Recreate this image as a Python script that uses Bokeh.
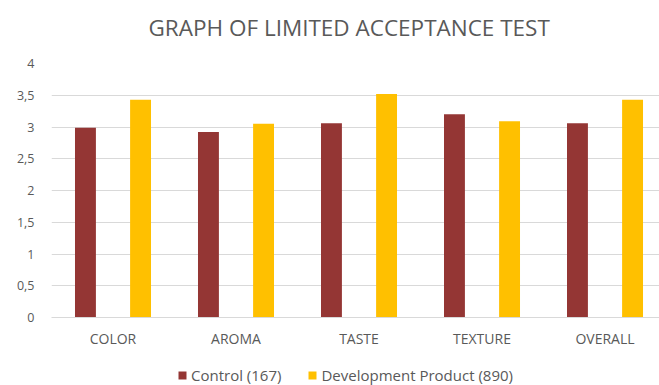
from bokeh.plotting import figure
from bokeh.layouts import column
from bokeh.models import (Range1d, FixedTicker, CustomJSTickFormatter, Legend, LegendItem,
                          ColumnDataSource, Label)
from bokeh.embed import file_html
from bokeh.resources import INLINE
from bokeh.transform import dodge

categories = ["COLOR", "AROMA", "TASTE", "TEXTURE", "OVERALL"]
control = [2.99, 2.92, 3.06, 3.20, 3.06]
development = [3.43, 3.05, 3.52, 3.09, 3.43]
series_names = ["Control (167)", "Development Product (890)"]
y_ticks = [0, 0.5, 1, 1.5, 2, 2.5, 3, 3.5, 4]
title_text = "GRAPH OF LIMITED ACCEPTANCE TEST"

FONT = "Open Sans"
GRAY = "#595959"
C_CTRL = "#943634"
C_DEV = "#FFC000"


def strip(height):
    f = figure(width=659, height=height, output_backend="svg", toolbar_location=None,
               x_axis_location=None, y_axis_location=None,
               min_border_left=0, min_border_right=0, min_border_top=0, min_border_bottom=0)
    f.outline_line_color = None
    f.xgrid.grid_line_color = None
    f.ygrid.grid_line_color = None
    return f


# title strip (its frame is aligned with the chart frame by the column layout)
tf = strip(55)
tf.add_layout(Label(x=97, y=28, x_units="screen", y_units="screen", text=title_text,
                    text_font=FONT, text_font_size="22.5px", text_color=GRAY,
                    text_baseline="middle", text_align="left"))

xpos = [i + 0.5 for i in range(len(categories))]
src = ColumnDataSource(dict(x=xpos, control=control, development=development))

p = figure(width=659, height=300, output_backend="svg", toolbar_location=None,
           x_range=Range1d(0, 4.943), y_range=Range1d(0, 4),
           min_border_left=51, min_border_right=0, min_border_top=8, min_border_bottom=38)
p.outline_line_color = None
p.background_fill_color = "white"
p.border_fill_color = "white"

p.vbar(x=dodge("x", -0.224), top="control", width=0.17, source=src, fill_color=C_CTRL, line_color=None)
p.vbar(x=dodge("x", 0.224), top="development", width=0.17, source=src, fill_color=C_DEV, line_color=None)

# y axis
yax = p.yaxis[0]
yax.ticker = FixedTicker(ticks=y_ticks)
yax.formatter = CustomJSTickFormatter(code="return tick.toString().replace('.', ',');")
yax.axis_line_color = None
yax.major_tick_line_color = None
yax.minor_tick_line_color = None
yax.major_label_text_font = FONT
yax.major_label_text_font_size = "12.5px"
yax.major_label_text_color = GRAY
yax.major_label_standoff = 11

# x axis
xax = p.xaxis[0]
xax.ticker = FixedTicker(ticks=xpos)
xax.major_label_overrides = {x: c for x, c in zip(xpos, categories)}
xax.axis_line_color = "#d9d9d9"
xax.major_tick_line_color = None
xax.minor_tick_line_color = None
xax.major_label_text_font = FONT
xax.major_label_text_font_size = "14px"
xax.major_label_text_color = GRAY
xax.major_label_standoff = 5

p.xgrid.grid_line_color = None
p.ygrid.ticker = FixedTicker(ticks=y_ticks)
p.ygrid.grid_line_color = "#d9d9d9"

# legend strip
lg = strip(30)
k1 = lg.vbar(x=[0], top=[0], width=0.1, fill_color=C_CTRL, line_color=None)
k2 = lg.vbar(x=[0], top=[0], width=0.1, fill_color=C_DEV, line_color=None)
legend = Legend(items=[LegendItem(label=series_names[0], renderers=[k1]),
                       LegendItem(label=series_names[1], renderers=[k2])],
                orientation="horizontal", location=(126, 0),
                glyph_width=10, glyph_height=10, spacing=26, label_standoff=4,
                label_text_font=FONT, label_text_font_size="15px", label_text_color=GRAY,
                border_line_color=None, background_fill_alpha=0, padding=0, margin=0)
lg.add_layout(legend, "center")

open("out.html", "w").write(file_html(column(tf, p, lg, spacing=0), INLINE))
